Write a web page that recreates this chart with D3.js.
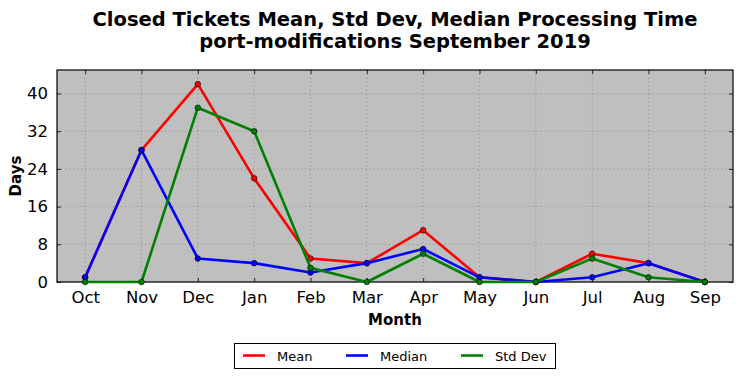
<!DOCTYPE html>
<html>
<head>
<meta charset="utf-8">
<script src="https://cdn.jsdelivr.net/npm/d3@7"></script>
<style>
  body { margin: 0; background: #fff; }
  svg { font-family: "DejaVu Sans", sans-serif; }
</style>
</head>
<body>
<svg id="chart" width="742" height="378"></svg>
<script>
// data
const months = ['Oct', 'Nov', 'Dec', 'Jan', 'Feb', 'Mar', 'Apr', 'May', 'Jun', 'Jul', 'Aug', 'Sep'];
const meanDays = [1, 28, 42, 22, 5, 4, 11, 1, 0, 6, 4, 0];
const medianDays = [1, 28, 5, 4, 2, 4, 7, 1, 0, 1, 4, 0];
const stdDays = [0, 0, 37, 32, 3, 0, 6, 0, 0, 5, 1, 0];
const yTicks = [0, 8, 16, 24, 32, 40];

const series = [
  { name: 'Mean', color: '#ff0000', values: meanDays },
  { name: 'Median', color: '#0000ff', values: medianDays },
  { name: 'Std Dev', color: '#008000', values: stdDays }
];

const svg = d3.select('#chart');
const plotLeft = 57, plotRight = 733, plotTop = 70, plotBottom = 282;

let x = d3.scaleLinear().domain([-0.5, months.length - 0.5]).range([plotLeft, plotRight]);
let y = d3.scaleLinear().domain([0, 45]).range([plotBottom, plotTop]);

// plot background
svg.append('rect')
  .attr('x', plotLeft).attr('y', plotTop)
  .attr('width', plotRight - plotLeft).attr('height', plotBottom - plotTop)
  .attr('fill', '#bfbfbf');

// grid
svg.append('g').selectAll('line')
  .data(months.map((m, i) => i))
  .enter().append('line')
  .attr('x1', d => x(d)).attr('x2', d => x(d))
  .attr('y1', plotTop).attr('y2', plotBottom)
  .attr('stroke', '#808080').attr('stroke-width', 0.8)
  .attr('stroke-dasharray', '1,3');
svg.append('g').selectAll('line')
  .data(yTicks)
  .enter().append('line')
  .attr('x1', plotLeft).attr('x2', plotRight)
  .attr('y1', d => y(d)).attr('y2', d => y(d))
  .attr('stroke', '#808080').attr('stroke-width', 0.8)
  .attr('stroke-dasharray', '1,3');

// axes: ticks point inward, mirrored on top and right
let xAxis = d3.axisBottom(x).tickValues(months.map((m, i) => i))
  .tickFormat(i => months[i]).tickSizeInner(-4).tickSizeOuter(0).tickPadding(9);
let xAxisTop = d3.axisTop(x).tickValues(months.map((m, i) => i))
  .tickFormat('').tickSizeInner(-4).tickSizeOuter(0);
let yAxis = d3.axisLeft(y).tickValues(yTicks)
  .tickSizeInner(-4).tickSizeOuter(0).tickPadding(9);
let yAxisRight = d3.axisRight(y).tickValues(yTicks)
  .tickFormat('').tickSizeInner(-4).tickSizeOuter(0);

svg.append('g').attr('transform', 'translate(0,' + plotBottom + ')').call(xAxis);
svg.append('g').attr('transform', 'translate(0,' + plotTop + ')').call(xAxisTop);
svg.append('g').attr('transform', 'translate(' + plotLeft + ',0)').call(yAxis);
svg.append('g').attr('transform', 'translate(' + plotRight + ',0)').call(yAxisRight);

svg.selectAll('.domain').remove();
svg.selectAll('.tick line').attr('stroke', '#000').attr('stroke-width', 0.8);
svg.selectAll('.tick text').attr('font-size', 16.5).attr('fill', '#000')
  .attr('font-family', '"DejaVu Sans", sans-serif');

// frame
svg.append('rect')
  .attr('x', plotLeft).attr('y', plotTop)
  .attr('width', plotRight - plotLeft).attr('height', plotBottom - plotTop)
  .attr('fill', 'none').attr('stroke', '#000').attr('stroke-width', 1.2);

// lines and markers
let line = d3.line().x((d, i) => x(i)).y(d => y(d));
let plot = svg.append('g');
series.forEach(s => {
  plot.append('path')
    .datum(s.values)
    .attr('d', line)
    .attr('fill', 'none')
    .attr('stroke', s.color)
    .attr('stroke-width', 2.6)
    .attr('stroke-linejoin', 'round');
  plot.selectAll('.dot-' + s.name.replace(' ', ''))
    .data(s.values)
    .enter().append('circle')
    .attr('class', 'dot-' + s.name.replace(' ', ''))
    .attr('cx', (d, i) => x(i))
    .attr('cy', d => y(d))
    .attr('r', 2.8)
    .attr('fill', s.color)
    .attr('stroke', '#000')
    .attr('stroke-width', 0.6);
});

// titles
svg.append('text')
  .attr('x', 395).attr('y', 26)
  .attr('text-anchor', 'middle')
  .attr('font-size', 19.5).attr('font-weight', 'bold')
  .text('Closed Tickets Mean, Std Dev, Median Processing Time');
svg.append('text')
  .attr('x', 395).attr('y', 48)
  .attr('text-anchor', 'middle')
  .attr('font-size', 19.5).attr('font-weight', 'bold')
  .text('port-modifications September 2019');

svg.append('text')
  .attr('x', (plotLeft + plotRight) / 2).attr('y', 325)
  .attr('text-anchor', 'middle')
  .attr('font-size', 15).attr('font-weight', 'bold')
  .text('Month');
svg.append('text')
  .attr('transform', 'translate(21,' + ((plotTop + plotBottom) / 2) + ') rotate(-90)')
  .attr('text-anchor', 'middle')
  .attr('font-size', 15).attr('font-weight', 'bold')
  .text('Days');

// legend
let legend = svg.append('g');
legend.append('rect')
  .attr('x', 234.5).attr('y', 343.5)
  .attr('width', 321).attr('height', 25)
  .attr('fill', '#fff').attr('stroke', '#000').attr('stroke-width', 1);
let legendX = [243, 346, 461];
series.forEach((s, i) => {
  legend.append('line')
    .attr('x1', legendX[i]).attr('x2', legendX[i] + 22)
    .attr('y1', 355.5).attr('y2', 355.5)
    .attr('stroke', s.color).attr('stroke-width', 2.6);
  legend.append('text')
    .attr('x', legendX[i] + 34).attr('y', 360.5)
    .attr('font-size', 13)
    .text(s.name);
});
</script>
</body>
</html>
